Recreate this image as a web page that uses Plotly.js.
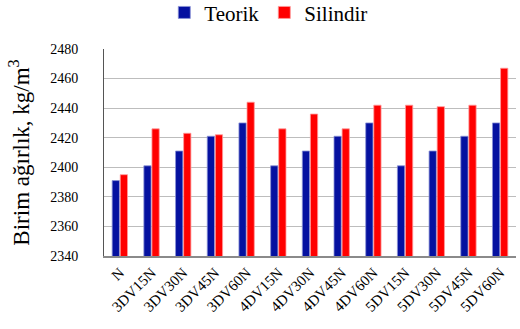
<!DOCTYPE html>
<html>
<head>
<meta charset="utf-8">
<script src="https://cdn.plot.ly/plotly-3.0.1.min.js"></script>
<style>
  html, body { margin: 0; padding: 0; background: #fff; }
  #chart { width: 520px; height: 329px; }
  /* keep every label of the chart in the serif face */
  #chart svg text { font-family: 'Liberation Serif', 'Times New Roman', serif !important; }
</style>
</head>
<body>
<div id="chart"></div>
<script>
// Mix designations
const categories = ['N', '3DV15N', '3DV30N', '3DV45N', '3DV60N', '4DV15N', '4DV30N',
                    '4DV45N', '4DV60N', '5DV15N', '5DV30N', '5DV45N', '5DV60N'];

// Unit weight, kg/m3
const teorik   = [2391, 2401, 2411, 2421, 2430, 2401, 2411, 2421, 2430, 2401, 2411, 2421, 2430];
const silindir = [2395, 2426, 2423, 2422, 2444, 2426, 2436, 2426, 2442, 2442, 2441, 2442, 2467];

const yTicks = [2340, 2360, 2380, 2400, 2420, 2440, 2460, 2480];

const serif = 'Liberation Serif';

const traces = [
  {
    type: 'bar', name: 'Teorik', x: categories, y: teorik,
    marker: { color: '#0511a0', line: { color: '#8c93d6', width: 0.8 } }
  },
  {
    type: 'bar', name: 'Silindir', x: categories, y: silindir,
    marker: { color: '#ff0000', line: { color: '#ff9a9a', width: 0.8 } }
  }
];

const layout = {
  width: 520, height: 329,
  margin: { l: 104, r: 4, t: 49, b: 73, autoexpand: false },
  paper_bgcolor: '#fff', plot_bgcolor: '#fff',
  font: { family: serif, color: '#000' },
  barmode: 'group', bargap: 0.49, bargroupgap: 0.1,
  showlegend: true,
  legend: {
    orientation: 'h', x: 0.40, xanchor: 'center', y: 1.175, yanchor: 'middle',
    font: { family: serif, size: 21, color: '#000' },
    itemwidth: 30, tracegroupgap: 0
  },
  xaxis: {
    type: 'category',
    tickangle: -45,
    tickfont: { family: serif, size: 15, color: '#000' },
    showline: true, linecolor: '#8a8a8a', linewidth: 2,
    ticks: '', showgrid: false, zeroline: false
  },
  yaxis: {
    range: [2340, 2480],
    tickvals: yTicks, ticktext: yTicks.map(String),
    tickfont: { family: serif, size: 14, color: '#000' },
    ticklabelstandoff: 22,
    showline: true, linecolor: '#555', linewidth: 1,
    ticks: '',
    showgrid: true, gridcolor: '#bdbdbd', gridwidth: 1,
    zeroline: false,
    title: {
      text: 'Birim ağırlık, kg/m<sup>3</sup>',
      font: { family: serif, size: 23, color: '#000' },
      standoff: 14
    }
  }
};

Plotly.newPlot('chart', traces, layout, { displayModeBar: false, staticPlot: true });
</script>
</body>
</html>
